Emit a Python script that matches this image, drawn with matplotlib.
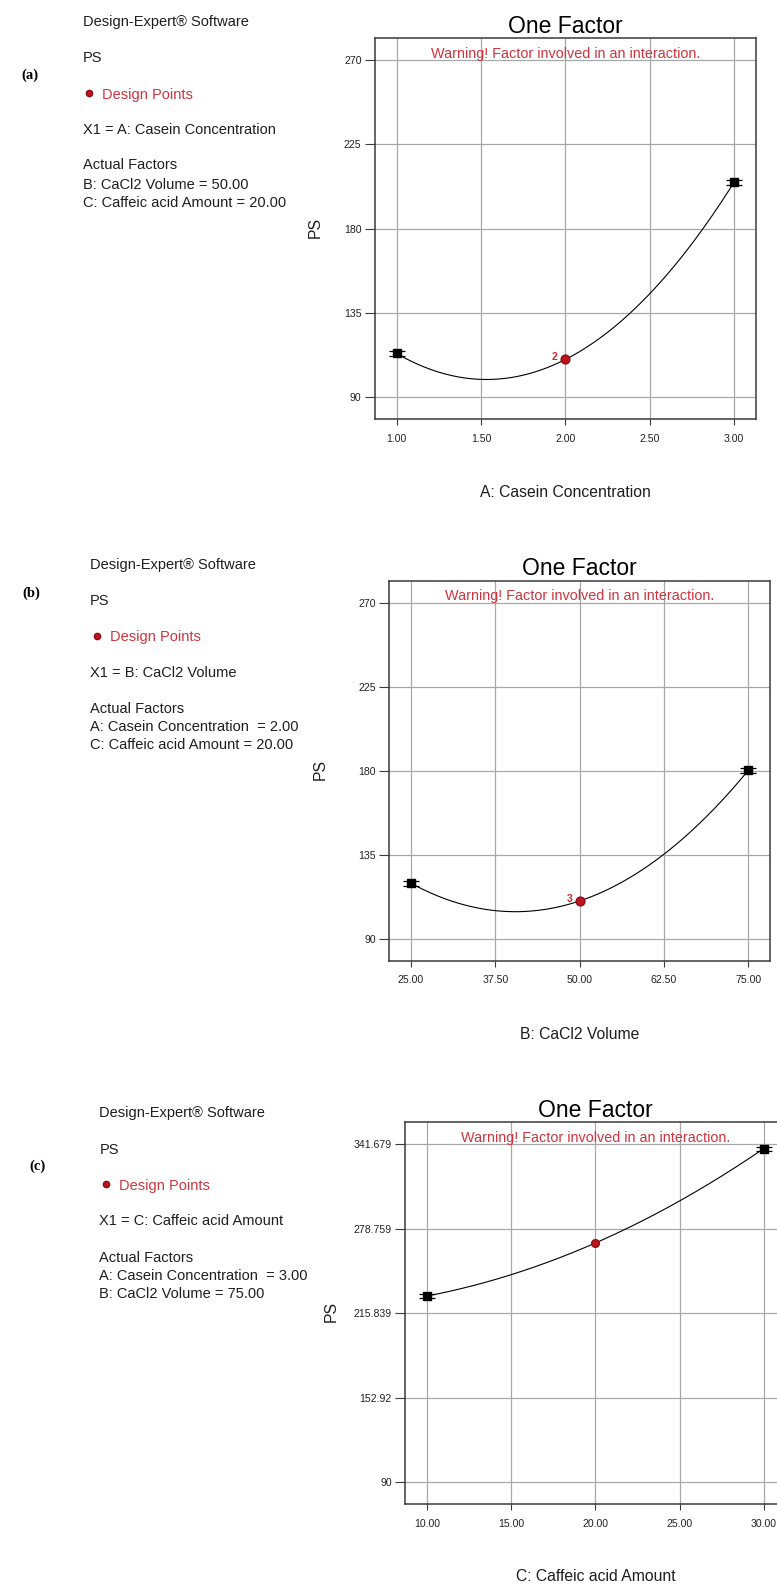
import numpy as np
import matplotlib
matplotlib.use('Agg')
import matplotlib.pyplot as plt

"""
Three one-factor plots (Design-Expert style) for the PS response, stacked on one page.
"""

W, H = 777, 1585

# ---- panel (a): A = Casein Concentration
a_x = [1.00, 2.00, 3.00]
a_ps = [113.3, 110.1, 204.8]
a_err = [1.3, 0.0, 1.3]
a_xticks = [1.00, 1.50, 2.00, 2.50, 3.00]
a_xticklabels = ['1.00', '1.50', '2.00', '2.50', '3.00']
a_yticks = [90, 135, 180, 225, 270]
a_yticklabels = ['90', '135', '180', '225', '270']
a_xlabel = 'A: Casein Concentration'
a_lines = ['X1 = A: Casein Concentration', 'Actual Factors',
           'B: CaCl2 Volume = 50.00', 'C: Caffeic acid Amount = 20.00']
a_count = '2'

# ---- panel (b): B = CaCl2 Volume
b_x = [25.0, 50.0, 75.0]
b_ps = [119.8, 110.3, 180.3]
b_err = [1.3, 0.0, 1.3]
b_xticks = [25.0, 37.5, 50.0, 62.5, 75.0]
b_xticklabels = ['25.00', '37.50', '50.00', '62.50', '75.00']
b_yticks = [90, 135, 180, 225, 270]
b_yticklabels = ['90', '135', '180', '225', '270']
b_xlabel = 'B: CaCl2 Volume'
b_lines = ['X1 = B: CaCl2 Volume', 'Actual Factors',
           'A: Casein Concentration  = 2.00', 'C: Caffeic acid Amount = 20.00']
b_count = '3'

# ---- panel (c): C = Caffeic acid Amount
c_x = [10.0, 20.0, 30.0]
c_ps = [228.6, 268.1, 338.5]
c_err = [1.5, 0.0, 1.5]
c_xticks = [10.0, 15.0, 20.0, 25.0, 30.0]
c_xticklabels = ['10.00', '15.00', '20.00', '25.00', '30.00']
c_yticks = [90, 152.92, 215.839, 278.759, 341.679]
c_yticklabels = ['90', '152.92', '215.839', '278.759', '341.679']
c_xlabel = 'C: Caffeic acid Amount'
c_lines = ['X1 = C: Caffeic acid Amount', 'Actual Factors',
           'A: Casein Concentration  = 3.00', 'B: CaCl2 Volume = 75.00']
c_count = ''

RED = '#d0343f'
DARKRED = '#8a0c12'
TXT = '#1e1e1e'

plt.rcParams['font.family'] = ['Liberation Sans', 'DejaVu Sans']

fig = plt.figure(figsize=(W / 100, H / 100), dpi=100)


def fx(x):
	return x / W


def fy(y):
	return 1 - y / H


def txt(x, y, s, size, **kw):
	# y is the visual centre of the capitals, in pixels from the top
	base = y + 0.716 * size * 100 / 72 / 2
	fig.text(fx(x), fy(base), s, fontsize=size, va='baseline', **kw)


def draw_panel(box, xs, ps, err, xticks, xticklabels, yticks, yticklabels,
			   xlabel, lines, count, tag, lay):
	left, top, right, bottom = box
	ax = fig.add_axes([fx(left), fy(bottom), (right - left) / W, (bottom - top) / H])

	xpad = (xticks[-1] - xticks[0]) * 0.065
	ypad = (yticks[-1] - yticks[0]) * 0.065
	ax.set_xlim(xticks[0] - xpad, xticks[-1] + xpad)
	ax.set_ylim(yticks[0] - ypad, yticks[-1] + ypad)

	ax.set_xticks(xticks)
	ax.set_xticklabels(xticklabels)
	ax.set_yticks(yticks)
	ax.set_yticklabels(yticklabels)
	ax.grid(True, color='#a8a8a8', linewidth=0.9)
	ax.set_axisbelow(True)
	for s in ax.spines.values():
		s.set_color('#3a3a3a')
		s.set_linewidth(1.1)
	ax.tick_params(axis='x', length=4.5, width=0.8, pad=6, labelsize=7.6,
				   colors='#3a3a3a', labelcolor='#222222')
	ax.tick_params(axis='y', length=7.5, width=0.8, pad=2, labelsize=7.6,
				   colors='#3a3a3a', labelcolor='#222222')

	# quadratic model line through the three predicted points
	coef = np.polyfit(xs, ps, 2)
	xx = np.linspace(xs[0], xs[-1], 200)
	ax.plot(xx, np.polyval(coef, xx), color='black', linewidth=0.8, zorder=3)

	# end points (black squares with LSD bars)
	for i in [0, 2]:
		ax.errorbar(xs[i], ps[i], yerr=err[i], fmt='s', color='black',
					markersize=5.8, capsize=6, elinewidth=0.8, capthick=0.9, zorder=4)
	# design point (red)
	ax.plot(xs[1], ps[1], 'o', color='#c0141e', markeredgecolor=DARKRED,
			markersize=6.3 if count else 5.5, zorder=5)
	if count:
		ax.annotate(count, (xs[1], ps[1]), xytext=(-7.5, 1.5), textcoords='offset points',
					color='#e0202a', fontsize=7.5, fontweight='bold', ha='center', va='center', zorder=5)

	cx = (left + right) / 2
	txt(cx, lay['title'], 'One Factor', 16.5, ha='center', color='black')
	txt(cx, lay['warn'], 'Warning! Factor involved in an interaction.', 10.4, ha='center', color=RED)
	fig.text(fx(lay['ylab'][0]), fy(lay['ylab'][1]), 'PS', fontsize=11.3, rotation=90,
			 ha='center', va='center', color=TXT)
	txt(cx, lay['xlab'], xlabel, 11.3, ha='center', color=TXT)

	# information block on the left
	tx = lay['tx']
	ty = lay['ty']
	txt(tx, ty[0], 'Design-Expert\u00ae Software', 10.5, color=TXT)
	txt(tx, ty[1], 'PS', 10.5, color=TXT)
	fig.add_artist(plt.Line2D([fx(tx + 6.5)], [fy(ty[2])], marker='o', markersize=4.5,
							  color='#c0141e', markeredgecolor=DARKRED))
	txt(tx + 19.5, ty[2], 'Design Points', 10.5, color=RED)
	for k, line in enumerate(lines):
		txt(tx, ty[3 + k], line, 10.5, color=TXT)
	txt(lay['tag'][0], lay['tag'][1], tag, 10.5, color='black',
		family='Liberation Serif', fontweight='bold')
	return ax


if __name__ == "__main__":
	lay_a = {'title': 25, 'warn': 53, 'ylab': (315, 228), 'xlab': 491.7,
			 'tx': 82.7, 'ty': [20.7, 56.7, 93.3, 128.3, 163.3, 183.3, 201.7],
			 'tag': (21.7, 74)}
	lay_b = {'title': 566.7, 'warn': 595, 'ylab': (320, 770), 'xlab': 1033.3,
			 'tx': 90, 'ty': [563.3, 600, 635.7, 671.7, 707.7, 726, 743.3],
			 'tag': (22.7, 591.7)}
	lay_c = {'title': 1109, 'warn': 1137, 'ylab': (331.7, 1311.7), 'xlab': 1575.7,
			 'tx': 99.3, 'ty': [1111.7, 1148.3, 1184.3, 1220, 1256.7, 1275, 1292.7],
			 'tag': (29, 1165)}

	draw_panel((374.7, 38.3, 756, 419), a_x, a_ps, a_err, a_xticks, a_xticklabels,
			   a_yticks, a_yticklabels, a_xlabel, a_lines, a_count, '(a)', lay_a)
	draw_panel((389, 581, 770.3, 960.7), b_x, b_ps, b_err, b_xticks, b_xticklabels,
			   b_yticks, b_yticklabels, b_xlabel, b_lines, b_count, '(b)', lay_b)
	draw_panel((405, 1122.3, 785.7, 1504), c_x, c_ps, c_err, c_xticks, c_xticklabels,
			   c_yticks, c_yticklabels, c_xlabel, c_lines, c_count, '(c)', lay_c)

	fig.savefig('out.png', dpi=100)
